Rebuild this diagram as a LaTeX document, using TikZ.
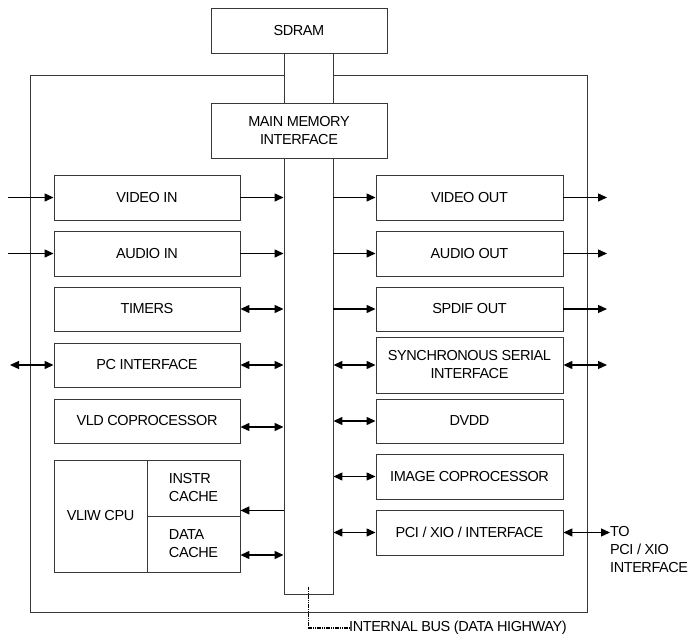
\documentclass[tikz,border=0pt]{standalone}
\usepackage{fontspec}
\usetikzlibrary{arrows.meta,calc}
\newfontfamily\dfont{Liberation Sans}[LetterSpace=-3]
\newcommand{\dsize}{\dfont\fontsize{14.5}{18}\selectfont}
\definecolor{linec}{gray}{0.22}
\tikzset{
  blk/.style={draw=linec, line width=0.9pt, fill=white, inner sep=0pt, font=\dsize, align=center},
  lblk/.style={blk, minimum width=186pt},
  rblk/.style={blk, minimum width=187pt},
  txt/.style={inner sep=0pt, font=\dsize},
  tipT/.tip={Triangle[length=9pt,width=8pt]},
  conn/.style={line width=1.3pt, -tipT},
  biconn/.style={line width=1.3pt, tipT-tipT},
}
\begin{document}
\begin{tikzpicture}[x=1pt,y=-1pt]
\useasboundingbox (0,0) rectangle (689,636);
% outer chip
\node[draw=linec, line width=0.9pt, minimum width=557pt, minimum height=537pt, inner sep=0pt] (chip) at (308.5,343.5) {};
% bus
\node[blk, minimum width=49pt, minimum height=541pt] (bus) at (308.5,323.5) {};
% SDRAM and main memory interface
\node[blk, minimum width=176pt, minimum height=45pt] (sdram) at (299,30.5) {SDRAM};
\node[blk, minimum width=176pt, minimum height=55pt] (mmi) at (299,130.5) {MAIN MEMORY\\INTERFACE};
% left column
\node[lblk, minimum height=45pt] (vin) at (147,197.5) {VIDEO IN};
\node[lblk, minimum height=45pt] (ain) at (147,253.5) {AUDIO IN};
\node[lblk, minimum height=44pt] (tim) at (147,309) {TIMERS};
\node[lblk, minimum height=44pt] (pci) at (147,365) {PC INTERFACE};
\node[lblk, minimum height=44pt] (vld) at (147,421) {VLD COPROCESSOR};
% VLIW CPU
\node[blk, minimum width=93pt, minimum height=112pt] (cpu) at (100.5,516) {VLIW CPU};
\node[blk, minimum width=93pt, minimum height=56pt, align=left] (icache) at (193.5,488) {INSTR\\CACHE};
\node[blk, minimum width=93pt, minimum height=56pt, align=left] (dcache) at (193.5,544) {DATA\\CACHE};
% right column
\node[rblk, minimum height=45pt] (vout) at (469.5,197.5) {VIDEO OUT};
\node[rblk, minimum height=45pt] (aout) at (469.5,253.5) {AUDIO OUT};
\node[rblk, minimum height=44pt] (spdif) at (469.5,309) {SPDIF OUT};
\node[rblk, minimum height=56pt] (ssi) at (469.5,365) {SYNCHRONOUS SERIAL\\INTERFACE};
\node[rblk, minimum height=44pt] (dvdd) at (469.5,421) {DVDD};
\node[rblk, minimum height=45pt] (imc) at (469.5,476.5) {IMAGE COPROCESSOR};
\node[rblk, minimum height=45pt] (pcix) at (469.5,532.5) {PCI / XIO / INTERFACE};
% external ends
\coordinate (vinsrc) at (8,197.5);
\coordinate (ainsrc) at (8,253.5);
\coordinate (pcext) at (10,365);
\coordinate (voutdst) at (607,197.5);
\coordinate (aoutdst) at (607,253.5);
\coordinate (spdifdst) at (607,309);
\coordinate (ssiext) at (607,365);
% left inputs
\draw[conn] (vinsrc) -- (vin.west);
\draw[conn] (ainsrc) -- (ain.west);
\draw[biconn] (pcext) -- (pci.west);
% left to bus
\draw[conn] (vin.east) -- (vin.east -| bus.west);
\draw[conn] (ain.east) -- (ain.east -| bus.west);
\draw[biconn] (tim.east) -- (tim.east -| bus.west);
\draw[biconn] (pci.east) -- (pci.east -| bus.west);
\draw[biconn] ($(vld.east)+(0,6)$) -- ($(vld.east -| bus.west)+(0,6)$);
\draw[conn] ($(icache.south east -| bus.west)+(0,-6)$) -- ($(icache.south east)+(0,-6)$);
\draw[biconn] ($(dcache.east)+(0,11)$) -- ($(dcache.east -| bus.west)+(0,11)$);
% bus to right
\draw[conn] (vout.west -| bus.east) -- (vout.west);
\draw[conn] (aout.west -| bus.east) -- (aout.west);
\draw[conn] (spdif.west -| bus.east) -- (spdif.west);
\draw[biconn] (ssi.west -| bus.east) -- (ssi.west);
\draw[biconn] (dvdd.west -| bus.east) -- (dvdd.west);
\draw[biconn] (imc.west -| bus.east) -- (imc.west);
\draw[biconn] (pcix.west -| bus.east) -- (pcix.west);
% right outputs
\draw[conn] (vout.east) -- (voutdst);
\draw[conn] (aout.east) -- (aoutdst);
\draw[conn] (spdif.east) -- (spdifdst);
\draw[biconn] (ssi.east) -- (ssiext);
\node[txt, anchor=north west, align=left] (topci) at (610,526.5) {TO\\PCI / XIO\\INTERFACE};
\draw[biconn] (pcix.east) -- (pcix.east -| topci.west);
% internal bus label
\node[txt, anchor=west] (ibus) at (349,628) {INTERNAL BUS (DATA HIGHWAY)};
\draw[line width=1.5pt, dash pattern=on 1.2pt off 0.6pt] ($(bus.south)+(0,-7)$) |- (ibus.west);
\end{tikzpicture}
\end{document}
